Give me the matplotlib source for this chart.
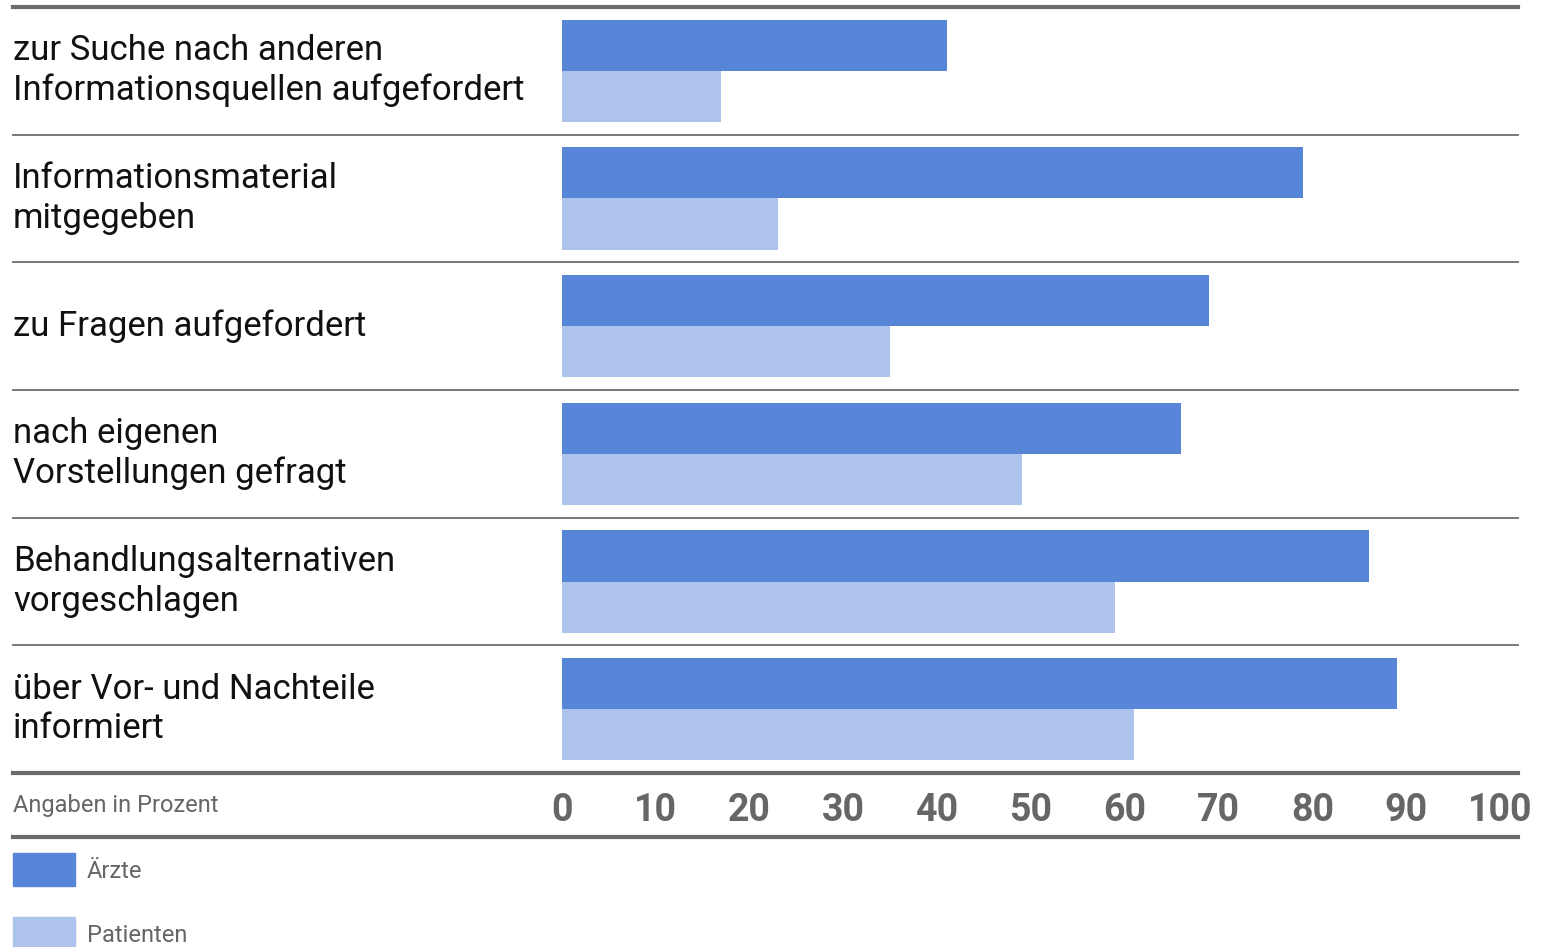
import matplotlib.pyplot as plt
from matplotlib.lines import Line2D
from matplotlib.patches import Rectangle
from matplotlib.transforms import blended_transform_factory

# data
categories = ["zur Suche nach anderen\nInformationsquellen aufgefordert",
              "Informationsmaterial\nmitgegeben",
              "zu Fragen aufgefordert",
              "nach eigenen\nVorstellungen gefragt",
              "Behandlungsalternativen\nvorgeschlagen",
              "über Vor- und Nachteile\ninformiert"]
aerzte = [41, 79, 69, 66, 86, 89]
patienten = [17, 23, 35, 49, 59, 61]
ticks = [0, 10, 20, 30, 40, 50, 60, 70, 80, 90, 100]

c_aerzte = "#5786d9"
c_pat = "#adc3ec"
c_line = "#6b6b6b"
fam = ["Roboto", "DejaVu Sans"]

W, H = 1541, 947
fig = plt.figure(figsize=(W / 100, H / 100), dpi=100)

def fx(px):
    return px / W

def fy(px):
    return 1 - px / H

ax = fig.add_axes([fx(562), fy(773), fx(1500) - fx(562), fy(7) - fy(773)])
n = len(categories)
ypos = [i + 0.5 for i in range(n)]
h = 0.40
ax.barh([y - h / 2 for y in ypos], aerzte, height=h, color=c_aerzte)
ax.barh([y + h / 2 for y in ypos], patienten, height=h, color=c_pat)
ax.set_xlim(0, 100)
ax.set_ylim(n, 0)
for s in ax.spines.values():
    s.set_visible(False)
ax.set_yticks([])
ax.set_xticks(ticks)
ax.set_xticklabels([str(t) for t in ticks], family=fam, fontsize=27,
                   fontweight="bold", color="#666666")
ax.tick_params(axis="x", length=0, pad=14)

# row separators
x0 = (13 - 562) / 938
x1 = (1518 - 562) / 938
for i in range(n + 1):
    thick = i in (0, n)
    ax.axhline(i, xmin=x0, xmax=x1, color=c_line if thick else "#7a7a7a",
               lw=3 if thick else 1.4, clip_on=False, zorder=3)

# category labels
tr = blended_transform_factory(fig.transFigure, ax.transData)
for y, lab in zip(ypos, categories):
    ax.text(fx(13), y, lab, transform=tr, ha="left", va="center",
            family=fam, fontsize=25, color="#111111", linespacing=1.25)

fig.add_artist(Line2D([fx(13), fx(1518)], [fy(837), fy(837)], color=c_line, lw=3))
fig.text(fx(13), fy(805), "Angaben in Prozent", family=fam, fontsize=17,
         color="#666666", ha="left", va="center")

# legend
for yy, col, lab in [(853, c_aerzte, "Ärzte"), (917, c_pat, "Patienten")]:
    fig.add_artist(Rectangle((fx(13), fy(yy + 33)), fx(75) - fx(13), 33 / H,
                             transform=fig.transFigure, color=col))
    fig.text(fx(87), fy(yy + 18), lab, family=fam, fontsize=17,
             color="#666666", ha="left", va="center")

fig.savefig("out.png", dpi=100)
